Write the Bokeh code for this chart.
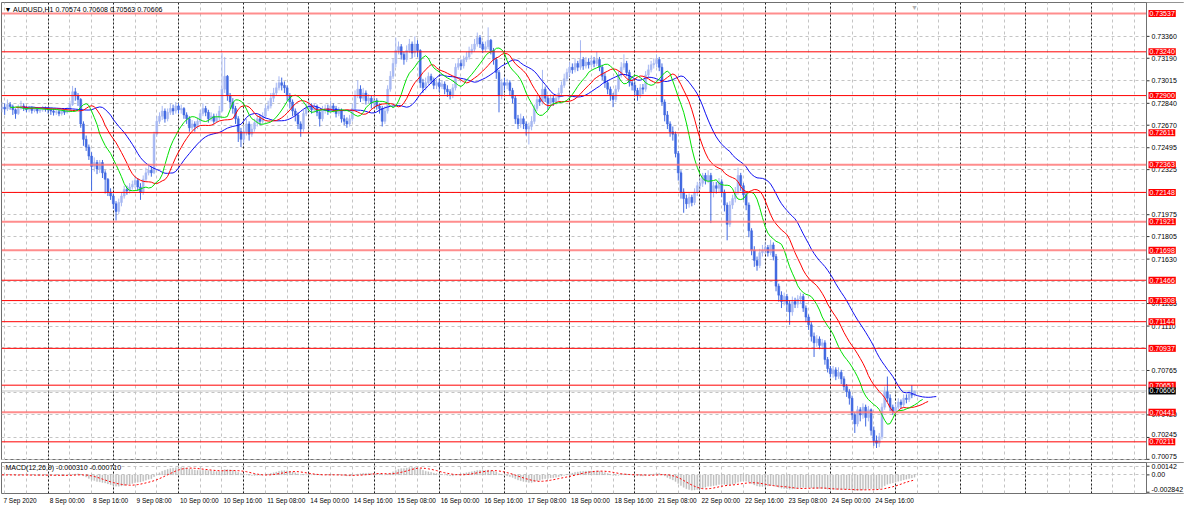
import numpy as np
import pandas as pd
from bokeh.plotting import figure
from bokeh.models import Range1d, FixedTicker, Label, Span, Grid, ColumnDataSource
from bokeh.core.properties import value, field
from bokeh.layouts import column
from bokeh.embed import file_html
from bokeh.resources import INLINE

# ---------------- data ----------------
SYMBOL = "AUDUSD,H1"
FIRST_BAR = "2020-09-07 07:00"
FIRST_OPEN = 0.72800

CLOSE = [
    # 7 Sep 07:00-23:00
    0.72810, 0.72795, 0.72830, 0.72815, 0.72790, 0.72760, 0.72800, 0.72820, 0.72805, 0.72790, 0.72800, 0.72785, 0.72795, 0.72780, 0.72790, 0.72800, 0.72795,
    # 8 Sep
    0.72790, 0.72780, 0.72770, 0.72775, 0.72760, 0.72780, 0.72770, 0.72790, 0.72830, 0.72930, 0.72900, 0.72870, 0.72680, 0.72560, 0.72500, 0.72430, 0.72350, 0.72380, 0.72330, 0.72380, 0.72300, 0.72250, 0.72150, 0.72120,
    # 9 Sep
    0.72060, 0.72000, 0.72070, 0.72120, 0.72170, 0.72160, 0.72190, 0.72210, 0.72240, 0.72190, 0.72150, 0.72250, 0.72300, 0.72320, 0.72300, 0.72600, 0.72700, 0.72740, 0.72780, 0.72720, 0.72770, 0.72800, 0.72780, 0.72820,
    # 10 Sep
    0.72790, 0.72800, 0.72750, 0.72720, 0.72650, 0.72680, 0.72660, 0.72700, 0.72760, 0.72800, 0.72770, 0.72720, 0.72740, 0.72700, 0.72730, 0.72780, 0.72950, 0.73050, 0.72900, 0.72850, 0.72800, 0.72720, 0.72620, 0.72560,
    # 11 Sep
    0.72620, 0.72680, 0.72600, 0.72640, 0.72690, 0.72720, 0.72700, 0.72740, 0.72800, 0.72820, 0.72880, 0.72920, 0.72960, 0.73000, 0.72980, 0.72960, 0.72900, 0.72850, 0.72780, 0.72750, 0.72680, 0.72640, 0.72760, 0.72800,
    # 14 Sep
    0.72820, 0.72790, 0.72810, 0.72770, 0.72720, 0.72790, 0.72800, 0.72780, 0.72820, 0.72800, 0.72760, 0.72780, 0.72720, 0.72700, 0.72680, 0.72720, 0.72800, 0.72900, 0.72950, 0.72880, 0.72920, 0.72860, 0.72880, 0.72840,
    # 15 Sep
    0.72860, 0.72820, 0.72800, 0.72700, 0.72780, 0.72950, 0.73050, 0.73150, 0.73250, 0.73280, 0.73220, 0.73180, 0.73250, 0.73300, 0.73230, 0.73300, 0.73250, 0.73000, 0.72960, 0.73000, 0.73050, 0.73020, 0.72980, 0.73000,
    # 16 Sep
    0.72970, 0.72990, 0.72950, 0.72930, 0.72900, 0.72960, 0.73120, 0.73150, 0.73130, 0.73180, 0.73200, 0.73240, 0.73260, 0.73300, 0.73350, 0.73300, 0.73260, 0.73280, 0.73330, 0.73250, 0.73180, 0.73080, 0.72900, 0.73000,
    # 17 Sep
    0.72980, 0.73000, 0.72940, 0.72880, 0.72720, 0.72680, 0.72720, 0.72680, 0.72640, 0.72660, 0.72700, 0.72800, 0.72870, 0.72850, 0.72950, 0.72880, 0.72840, 0.72880, 0.72850, 0.72880, 0.72920, 0.72980, 0.73030, 0.73080,
    # 18 Sep
    0.73120, 0.73100, 0.73150, 0.73120, 0.73180, 0.73130, 0.73160, 0.73140, 0.73170, 0.73150, 0.73180, 0.73120, 0.73050, 0.73000, 0.72950, 0.72900, 0.72870, 0.72950, 0.73060, 0.73120, 0.73150, 0.73080, 0.73000, 0.72980,
    # 21 Sep
    0.72940, 0.72900, 0.72960, 0.72950, 0.73060, 0.73100, 0.73140, 0.73150, 0.73180, 0.73120, 0.72850, 0.72750, 0.72680, 0.72620, 0.72600, 0.72450, 0.72300, 0.72150, 0.72100, 0.72060, 0.72110, 0.72070, 0.72150, 0.72200,
    # 22 Sep
    0.72220, 0.72280, 0.72240, 0.72280, 0.72150, 0.72200, 0.72180, 0.72230, 0.72150, 0.72050, 0.71900, 0.72050, 0.72100, 0.72150, 0.72280, 0.72200, 0.72130, 0.72050, 0.71850, 0.71700, 0.71620, 0.71580, 0.71680, 0.71700,
    # 23 Sep
    0.71720, 0.71680, 0.71740, 0.71650, 0.71420, 0.71350, 0.71300, 0.71340, 0.71280, 0.71220, 0.71300, 0.71280, 0.71320, 0.71340, 0.71250, 0.71180, 0.71120, 0.71030, 0.70980, 0.71010, 0.70960, 0.70980, 0.70850, 0.70780,
    # 24 Sep
    0.70740, 0.70770, 0.70720, 0.70750, 0.70700, 0.70640, 0.70600, 0.70550, 0.70420, 0.70350, 0.70460, 0.70420, 0.70480, 0.70400, 0.70460, 0.70300, 0.70220, 0.70200, 0.70250, 0.70480, 0.70600, 0.70550, 0.70480, 0.70450,
    # 25 Sep 00:00-07:00
    0.70480, 0.70520, 0.70500, 0.70550, 0.70540, 0.70580, 0.70574, 0.70606,
]

HIGH = [
    0.72850, 0.72840, 0.72870, 0.72850, 0.72830, 0.72800, 0.72830, 0.72860, 0.72840, 0.72820, 0.72820, 0.72815, 0.72810, 0.72810, 0.72810, 0.72820, 0.72815,
    0.72810, 0.72800, 0.72800, 0.72790, 0.72790, 0.72800, 0.72795, 0.72810, 0.72860, 0.72975, 0.72960, 0.72920, 0.72880, 0.72700, 0.72590, 0.72520, 0.72460, 0.72420, 0.72400, 0.72400, 0.72400, 0.72320, 0.72260, 0.72180,
    0.72140, 0.72080, 0.72100, 0.72150, 0.72200, 0.72200, 0.72220, 0.72240, 0.72270, 0.72260, 0.72220, 0.72280, 0.72340, 0.72370, 0.72350, 0.72620, 0.72740, 0.72770, 0.72820, 0.72800, 0.72800, 0.72840, 0.72830, 0.72850,
    0.72840, 0.72830, 0.72810, 0.72770, 0.72740, 0.72710, 0.72700, 0.72730, 0.72790, 0.72840, 0.72820, 0.72790, 0.72770, 0.72760, 0.72760, 0.72820, 0.73230, 0.73200, 0.73060, 0.72920, 0.72880, 0.72820, 0.72740, 0.72650,
    0.72660, 0.72720, 0.72700, 0.72680, 0.72720, 0.72750, 0.72750, 0.72770, 0.72830, 0.72860, 0.72920, 0.72960, 0.73000, 0.73050, 0.73040, 0.73010, 0.72980, 0.72920, 0.72870, 0.72800, 0.72770, 0.72700, 0.72790, 0.72840,
    0.72860, 0.72840, 0.72840, 0.72830, 0.72790, 0.72820, 0.72830, 0.72830, 0.72860, 0.72840, 0.72820, 0.72810, 0.72800, 0.72750, 0.72730, 0.72750, 0.72840, 0.72940, 0.73020, 0.72980, 0.72960, 0.72940, 0.72910, 0.72900,
    0.72900, 0.72880, 0.72840, 0.72820, 0.72820, 0.72980, 0.73090, 0.73190, 0.73350, 0.73320, 0.73300, 0.73240, 0.73290, 0.73340, 0.73320, 0.73360, 0.73330, 0.73260, 0.73030, 0.73040, 0.73080, 0.73070, 0.73040, 0.73030,
    0.73030, 0.73020, 0.73010, 0.72980, 0.72950, 0.72990, 0.73150, 0.73190, 0.73180, 0.73210, 0.73240, 0.73280, 0.73300, 0.73340, 0.73390, 0.73370, 0.73320, 0.73320, 0.73430, 0.73340, 0.73270, 0.73200, 0.73100, 0.73030,
    0.73040, 0.73030, 0.73020, 0.72960, 0.72900, 0.72750, 0.72760, 0.72740, 0.72700, 0.72690, 0.72740, 0.72830, 0.72900, 0.72900, 0.73100, 0.72970, 0.72900, 0.72910, 0.72900, 0.72910, 0.72960, 0.73010, 0.73070, 0.73110,
    0.73160, 0.73150, 0.73190, 0.73170, 0.73330, 0.73200, 0.73200, 0.73190, 0.73210, 0.73200, 0.73240, 0.73200, 0.73140, 0.73080, 0.73020, 0.72970, 0.72920, 0.72980, 0.73090, 0.73160, 0.73220, 0.73170, 0.73100, 0.73030,
    0.73010, 0.72960, 0.72990, 0.72990, 0.73090, 0.73140, 0.73170, 0.73190, 0.73220, 0.73200, 0.73150, 0.72870, 0.72780, 0.72700, 0.72660, 0.72620, 0.72470, 0.72320, 0.72180, 0.72130, 0.72140, 0.72130, 0.72180, 0.72230,
    0.72260, 0.72300, 0.72300, 0.72320, 0.72300, 0.72230, 0.72230, 0.72260, 0.72250, 0.72170, 0.72070, 0.72080, 0.72130, 0.72190, 0.72340, 0.72300, 0.72220, 0.72150, 0.72070, 0.71870, 0.71730, 0.71650, 0.71710, 0.71740,
    0.71760, 0.71740, 0.71780, 0.71760, 0.71670, 0.71440, 0.71380, 0.71370, 0.71360, 0.71310, 0.71340, 0.71330, 0.71350, 0.71370, 0.71360, 0.71270, 0.71200, 0.71140, 0.71060, 0.71040, 0.71030, 0.71010, 0.71000, 0.70870,
    0.70800, 0.70800, 0.70790, 0.70790, 0.70770, 0.70720, 0.70660, 0.70620, 0.70570, 0.70440, 0.70490, 0.70480, 0.70510, 0.70500, 0.70490, 0.70470, 0.70330, 0.70260, 0.70280, 0.70510, 0.70640, 0.70718, 0.70580, 0.70500,
    0.70510, 0.70550, 0.70540, 0.70580, 0.70580, 0.70610, 0.70650, 0.70608,
]

LOW = [
    0.72770, 0.72750, 0.72780, 0.72790, 0.72750, 0.72720, 0.72750, 0.72790, 0.72780, 0.72770, 0.72770, 0.72760, 0.72770, 0.72760, 0.72765, 0.72775, 0.72775,
    0.72760, 0.72750, 0.72745, 0.72750, 0.72740, 0.72745, 0.72750, 0.72760, 0.72780, 0.72820, 0.72860, 0.72820, 0.72650, 0.72510, 0.72470, 0.72400, 0.72160, 0.72310, 0.72290, 0.72300, 0.72260, 0.72140, 0.72120, 0.72090,
    0.72020, 0.71930, 0.71980, 0.72040, 0.72100, 0.72130, 0.72140, 0.72170, 0.72180, 0.72160, 0.72090, 0.72130, 0.72230, 0.72280, 0.72270, 0.72290, 0.72580, 0.72680, 0.72710, 0.72690, 0.72700, 0.72750, 0.72750, 0.72760,
    0.72760, 0.72760, 0.72720, 0.72680, 0.72620, 0.72630, 0.72620, 0.72640, 0.72680, 0.72740, 0.72740, 0.72690, 0.72700, 0.72680, 0.72690, 0.72710, 0.72770, 0.72920, 0.72860, 0.72800, 0.72760, 0.72680, 0.72540, 0.72500,
    0.72530, 0.72590, 0.72550, 0.72580, 0.72620, 0.72660, 0.72670, 0.72680, 0.72720, 0.72780, 0.72800, 0.72850, 0.72900, 0.72940, 0.72940, 0.72920, 0.72860, 0.72800, 0.72740, 0.72700, 0.72640, 0.72580, 0.72620, 0.72740,
    0.72780, 0.72760, 0.72770, 0.72740, 0.72660, 0.72700, 0.72760, 0.72750, 0.72760, 0.72770, 0.72730, 0.72740, 0.72690, 0.72670, 0.72650, 0.72660, 0.72700, 0.72780, 0.72880, 0.72850, 0.72860, 0.72830, 0.72840, 0.72800,
    0.72810, 0.72790, 0.72760, 0.72660, 0.72680, 0.72760, 0.72930, 0.73030, 0.73120, 0.73220, 0.73180, 0.73140, 0.73160, 0.73230, 0.73190, 0.73200, 0.73200, 0.72960, 0.72920, 0.72940, 0.72980, 0.72990, 0.72950, 0.72950,
    0.72930, 0.72950, 0.72910, 0.72890, 0.72870, 0.72880, 0.72940, 0.73100, 0.73100, 0.73110, 0.73160, 0.73180, 0.73220, 0.73240, 0.73280, 0.73270, 0.73230, 0.73240, 0.73260, 0.73220, 0.73140, 0.73030, 0.72770, 0.72870,
    0.72940, 0.72950, 0.72900, 0.72840, 0.72680, 0.72640, 0.72650, 0.72640, 0.72590, 0.72520, 0.72630, 0.72680, 0.72780, 0.72820, 0.72830, 0.72850, 0.72790, 0.72810, 0.72820, 0.72830, 0.72860, 0.72900, 0.72960, 0.73010,
    0.73050, 0.73070, 0.73080, 0.73090, 0.73100, 0.73100, 0.73110, 0.73110, 0.73120, 0.73120, 0.73130, 0.73090, 0.73020, 0.72960, 0.72910, 0.72860, 0.72810, 0.72850, 0.72930, 0.73040, 0.73100, 0.73050, 0.72970, 0.72940,
    0.72900, 0.72860, 0.72880, 0.72910, 0.72930, 0.73040, 0.73080, 0.73110, 0.73120, 0.73090, 0.72820, 0.72700, 0.72640, 0.72580, 0.72550, 0.72420, 0.72240, 0.72100, 0.71990, 0.72020, 0.72030, 0.72040, 0.72050, 0.72120,
    0.72170, 0.72190, 0.72210, 0.72220, 0.71910, 0.72110, 0.72140, 0.72150, 0.72110, 0.72000, 0.71776, 0.71880, 0.72020, 0.72070, 0.72130, 0.72160, 0.72090, 0.72010, 0.71800, 0.71660, 0.71570, 0.71540, 0.71560, 0.71650,
    0.71670, 0.71650, 0.71660, 0.71620, 0.71380, 0.71300, 0.71250, 0.71270, 0.71220, 0.71120, 0.71190, 0.71250, 0.71250, 0.71280, 0.71220, 0.71140, 0.71080, 0.70990, 0.70870, 0.70950, 0.70930, 0.70930, 0.70810, 0.70750,
    0.70710, 0.70710, 0.70690, 0.70700, 0.70660, 0.70610, 0.70560, 0.70500, 0.70380, 0.70280, 0.70330, 0.70370, 0.70390, 0.70330, 0.70370, 0.70260, 0.70180, 0.70163, 0.70170, 0.70230, 0.70460, 0.70520, 0.70450, 0.70420,
    0.70430, 0.70460, 0.70470, 0.70480, 0.70510, 0.70520, 0.70550, 0.70563,
]

# horizontal price levels drawn on the chart
RED_LEVELS = [0.73240, 0.72900, 0.72611, 0.72148, 0.71466, 0.71308, 0.71144, 0.70937, 0.70651, 0.70211]
PINK_LEVELS = [0.73537, 0.72363, 0.71921, 0.71698, 0.70441]

# right price-axis tick labels
Y_TICKS = [0.73360, 0.73190, 0.73015, 0.72840, 0.72670, 0.72495, 0.72325, 0.72150, 0.71975, 0.71805,
           0.71630, 0.71460, 0.71285, 0.71110, 0.70940, 0.70765, 0.70595, 0.70420, 0.70245, 0.70075]

# MACD panel
MACD_PARAMS = (12, 26, 9)
MACD_LAST = (-0.000310, -0.000710)
MACD_TICKS = [0.00142, 0.0, -0.002842]
MACD_TICK_TEXT = ["0.00142", "0.00", "-0.002842"]

# Alligator (period, shift)
JAW = (13, 8)
TEETH = (8, 5)
LIPS = (5, 3)

# ---------------- derived ----------------
n = len(CLOSE)
assert len(HIGH) == n and len(LOW) == n, (n, len(HIGH), len(LOW))
C = np.array(CLOSE)
H = np.array(HIGH)
L = np.array(LOW)
O = np.r_[FIRST_OPEN, C[:-1]]
idx = np.arange(n)

# bar-slot geometry: data area spans X0..X1 (in bar slots), price scale sits right of X1
X0, X1 = -0.17, 421.4
DATA_W = 1145            # px of the bar area
FW = 1183                # px of the whole frame (bar area + price scale)
XE = X0 + (X1 - X0) * FW / DATA_W
PPB = DATA_W / (X1 - X0)  # px per bar slot

times = []
t = pd.Timestamp(FIRST_BAR)
while len(times) < int(X1) + 1:
    if t.weekday() < 5:
        times.append(t)
    t += pd.Timedelta(hours=1)

first_mid = next(i for i, tt in enumerate(times) if tt.hour == 0)
grid_ticks = [i for i in range(len(times)) if (i - first_mid) % 8 == 0]
day_ticks = [i for i, tt in enumerate(times) if tt.hour == 0]
label_idx = [0] + [i for i in range(first_mid, n, 16)]


def smma(src, p):
    out = np.empty(len(src))
    out[0] = src[0]
    for i in range(1, len(src)):
        out[i] = (out[i - 1] * (p - 1) + src[i]) / p
    return out


def ema(src, p):
    a = 2.0 / (p + 1)
    out = np.empty(len(src))
    out[0] = src[0]
    for i in range(1, len(src)):
        out[i] = a * src[i] + (1 - a) * out[i - 1]
    return out


med = (H + L) / 2
macd = ema(C, MACD_PARAMS[0]) - ema(C, MACD_PARAMS[1])
signal = pd.Series(macd).rolling(MACD_PARAMS[2], min_periods=1).mean().values

FONT = "Liberation Sans"
BULL = "#A7B8F2"
BEAR = "#4169E1"
AXIS_COL = "#707070"
GRID_COL = "#C4C4C4"

# Arial/Liberation advance widths (1/1000 em) for label placement
ADV = {" ": 278, ":": 278, "S": 667, "e": 556, "p": 556, ".": 278, "-": 333}


def text_w(s, size):
    return sum(ADV.get(ch, 556) for ch in s) / 1000.0 * size


def price_scale(p, ticks, labels, y0, y1):
    """Price scale right of the bar area: white panel, axis line, ticks, labels.
    Labels too close to the panel's lower edge are lifted above their tick, as MetaTrader does."""
    p.quad(left=[X1], right=[XE], bottom=[y0], top=[y1], fill_color="white", line_color=None)
    p.segment(x0=[X1] * len(ticks), x1=[X1 + 3 / PPB] * len(ticks), y0=ticks, y1=ticks,
              line_color="#303030", line_width=1)
    span = y1 - y0
    bl = ["bottom" if (v - y0) / span < 0.06 else "middle" for v in ticks]
    ts = ColumnDataSource(dict(x=[X1] * len(ticks), y=ticks, t=labels, bl=bl))
    p.text(x="x", y="y", text="t", x_offset=5, text_baseline=field("bl"), source=ts,
           text_align="left", text_font=value(FONT), text_font_size="7px", text_color="#000000")
    p.add_layout(Span(location=X1, dimension="height", line_color=AXIS_COL, line_width=1))


def add_grids(p, yticks):
    p.grid.visible = False
    p.add_layout(Grid(dimension=0, ticker=FixedTicker(ticks=grid_ticks), grid_line_color=GRID_COL,
                      grid_line_dash="3 3"))
    p.add_layout(Grid(dimension=1, ticker=FixedTicker(ticks=yticks), grid_line_color=GRID_COL,
                      grid_line_dash="3 3"))
    p.add_layout(Grid(dimension=0, ticker=FixedTicker(ticks=day_ticks), grid_line_color="#000000",
                      grid_line_dash="2 2", grid_line_alpha=0.85))


XR = Range1d(X0, XE)
YLO, YHI = 0.70066, 0.73623
FH1 = 458

# ---------------- main chart ----------------
p1 = figure(frame_width=FW, frame_height=FH1, x_range=XR, y_range=Range1d(YLO, YHI),
            output_backend="svg", toolbar_location=None, x_axis_location=None,
            y_axis_location=None, min_border=0, min_border_left=1, min_border_top=2)
p1.background_fill_color = "white"
p1.border_fill_color = "white"
p1.outline_line_color = AXIS_COL
add_grids(p1, Y_TICKS)

# current price line
p1.segment(x0=[X0], x1=[X1], y0=[C[-1]], y1=[C[-1]], line_color="#C8C8C8", line_width=1)

colors = [BULL if c >= o else BEAR for o, c in zip(O, C)]
src = ColumnDataSource(dict(x=idx, o=O, h=H, l=L, c=C,
                            top=np.maximum(O, C), bot=np.minimum(O, C), color=colors))
p1.segment(x0="x", y0="l", x1="x", y1="h", line_color="color", line_width=1, source=src)
p1.vbar(x="x", width=0.72, top="top", bottom="bot", fill_color="color", line_color="color",
        line_width=0.5, source=src)

for (per, sh), col in ((JAW, "#1010F0"), (TEETH, "#FF0000"), (LIPS, "#00E000")):
    p1.line(idx + sh, smma(med, per), line_color=col, line_width=1)

p1.segment(x0=[X0] * len(PINK_LEVELS), x1=[X1] * len(PINK_LEVELS), y0=PINK_LEVELS, y1=PINK_LEVELS,
           line_color="#FF7070", line_width=2, line_alpha=0.8)
p1.segment(x0=[X0] * len(RED_LEVELS), x1=[X1] * len(RED_LEVELS), y0=RED_LEVELS, y1=RED_LEVELS,
           line_color="#FF0000", line_width=1)

all_levels = RED_LEVELS + PINK_LEVELS
visible_ticks = [v for v in Y_TICKS
                 if min(abs(v - lv) for lv in all_levels + [CLOSE[-1]]) > 0.0002]
price_scale(p1, visible_ticks, [f"{v:.5f}" for v in visible_ticks], YLO, YHI)

for lv in sorted(all_levels):
    p1.add_layout(Label(x=X1, y=lv, x_offset=2, text=f"{lv:.5f}",
                        text_color="white", text_font=FONT, text_font_size="7px",
                        text_baseline="middle", text_align="left",
                        background_fill_color="#FF0000", padding=1))
p1.add_layout(Label(x=X1, y=C[-1], x_offset=2, text=f"{C[-1]:.5f}",
                    text_color="white", text_font=FONT, text_font_size="7px",
                    text_baseline="middle", text_align="left",
                    background_fill_color="#000000", padding=1))

title = f"\u25BC  {SYMBOL}  {O[-1]:.5f} {H[-1]:.5f} {L[-1]:.5f} {C[-1]:.5f}"
p1.add_layout(Label(x=3, y=FH1 - 3, x_units="screen", y_units="screen", text=title,
                    text_font=FONT, text_font_size="7px", text_color="#000000",
                    text_baseline="top", text_align="left"))
p1.add_layout(Label(x=n - 1, y=FH1 - 1, x_units="data", y_units="screen", text="\u25BC",
                    text_font=FONT, text_font_size="7px", text_color="#B0B0B0",
                    text_baseline="top", text_align="center"))

# ---------------- MACD panel ----------------
MLO, MHI = -0.00305, 0.00203
p2 = figure(frame_width=FW, frame_height=31, x_range=XR, y_range=Range1d(MLO, MHI),
            output_backend="svg", toolbar_location=None, x_axis_location="below",
            y_axis_location=None, min_border=0, min_border_left=1, min_border_top=2,
            min_border_bottom=2)
p2.background_fill_color = "white"
p2.border_fill_color = "white"
p2.outline_line_color = AXIS_COL
add_grids(p2, MACD_TICKS[:2])

p2.vbar(x=idx, width=0.42, top=macd, bottom=0, fill_color="#BEBEBE", line_color="#BEBEBE",
        line_width=0.3)
p2.line(idx, signal, line_color="#FF0000", line_width=1, line_dash="2 2")
price_scale(p2, MACD_TICKS, MACD_TICK_TEXT, MLO, MHI)

p2.add_layout(Label(x=4, y=30, x_units="screen", y_units="screen",
                    text=f"MACD({MACD_PARAMS[0]},{MACD_PARAMS[1]},{MACD_PARAMS[2]}) "
                         f"{MACD_LAST[0]:.6f} {MACD_LAST[1]:.6f}",
                    text_font=FONT, text_font_size="7px", text_color="#000000",
                    text_baseline="top", text_align="left"))

# time axis: MetaTrader prints each date to the right of its bar, so centre each label
# half its width to the right of the bar slot
DATE_SIZE = 6.5
tick_pos, tick_txt = [], []
for i in label_idx:
    tt = times[i]
    txt = f"{tt.day} {tt:%b} {tt.year}" if i == 0 else f"{tt.day} {tt:%b} {tt:%H:%M}"
    pos = round(i + (text_w(txt, DATE_SIZE) / 2 + 1.5) / PPB, 3)
    tick_pos.append(pos)
    tick_txt.append(txt)
xa = p2.xaxis[0]
xa.ticker = FixedTicker(ticks=tick_pos)
xa.major_label_overrides = {v: s for v, s in zip(tick_pos, tick_txt)}
xa.major_label_text_font = FONT
xa.major_label_text_font_size = f"{DATE_SIZE}px"
xa.major_label_text_color = "#000000"
xa.major_label_standoff = 3
xa.major_tick_in = 0
xa.major_tick_out = 0
xa.minor_tick_in = 0
xa.minor_tick_out = 0
xa.axis_line_color = None

layout = column(p1, p2, spacing=0)
open("out.html", "w").write(file_html(layout, INLINE))
